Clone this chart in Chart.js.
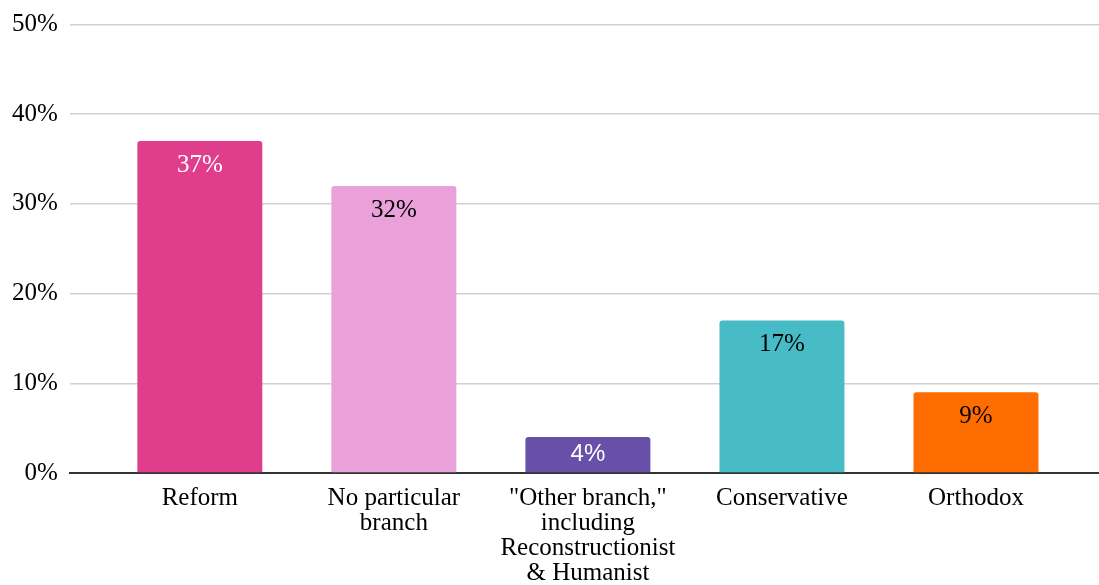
<!DOCTYPE html>
<html>
<head>
<meta charset="utf-8">
<script src="https://cdn.jsdelivr.net/npm/chart.js@4"></script>
<style>
    html, body { margin: 0; padding: 0; background: #fff; }
    #wrap { width: 1099px; height: 585px; }
</style>
</head>
<body>
<div id="wrap"><canvas id="chart"></canvas></div>
<script>
const categories = [
    'Reform',
    ['No particular', 'branch'],
    ['"Other branch,"', 'including', 'Reconstructionist', '& Humanist'],
    'Conservative',
    'Orthodox'
];
const shares = [37, 32, 4, 17, 9];
const barColors = ['#e03e8c', '#eaa0d8', '#6850a8', '#47bbc6', '#ff6d00'];
const labelColors = ['#ffffff', '#000000', '#ffffff', '#000000', '#000000'];
const yTicks = [0, 10, 20, 30, 40, 50];

const serif = '"Liberation Serif", "Times New Roman", serif';

// value labels inside the bars
const barLabels = {
    id: 'barLabels',
    afterDatasetsDraw(chart) {
        const ctx = chart.ctx;
        const meta = chart.getDatasetMeta(0);
        ctx.save();
        ctx.textAlign = 'center';
        ctx.textBaseline = 'middle';
        meta.data.forEach((bar, i) => {
            const top = bar.y;
            const base = bar.base;
            const y = Math.min(top + 24, (top + base) / 2);
            if (i === 2) {
                ctx.font = '24px "Liberation Sans", Arial, sans-serif';
            } else {
                ctx.font = '25px ' + serif;
            }
            ctx.fillStyle = labelColors[i];
            ctx.fillText(shares[i] + '%', bar.x, y);
        });
        ctx.restore();
    }
};

new Chart(document.getElementById('chart'), {
    type: 'bar',
    data: {
        datasets: [{
            data: shares.map((v, i) => ({ x: i, y: v })),
            backgroundColor: barColors,
            borderRadius: { topLeft: 3, topRight: 3 },
            borderSkipped: 'bottom',
            barPercentage: 0.644,
            categoryPercentage: 1
        }]
    },
    options: {
        responsive: true,
        maintainAspectRatio: false,
        animation: false,
        layout: { padding: { top: 6, left: 0, right: 0, bottom: -14 } },
        plugins: {
            legend: { display: false },
            tooltip: { enabled: false }
        },
        scales: {
            x: {
                type: 'linear',
                min: -0.67,
                max: 4.634,
                offset: false,
                grid: { display: false, drawTicks: false },
                border: { display: true, color: '#333333', width: 2 },
                ticks: {
                    stepSize: 1,
                    includeBounds: false,
                    autoSkip: false,
                    maxRotation: 0,
                    padding: 13,
                    color: '#000',
                    font: { family: serif, size: 25, lineHeight: 1.0 },
                    callback: (v) => Number.isInteger(v) && categories[v] !== undefined ? categories[v] : ''
                }
            },
            y: {
                min: 0,
                max: 50,
                afterBuildTicks: (axis) => { axis.ticks = yTicks.map(v => ({ value: v })); },
                grid: { color: '#d0d0d0', lineWidth: 1.5, drawTicks: false },
                border: { display: false },
                ticks: {
                    padding: 12,
                    color: '#000',
                    font: { family: serif, size: 25, lineHeight: 1.0 },
                    callback: (v) => v + '%'
                }
            }
        }
    },
    plugins: [barLabels]
});
</script>
</body>
</html>
